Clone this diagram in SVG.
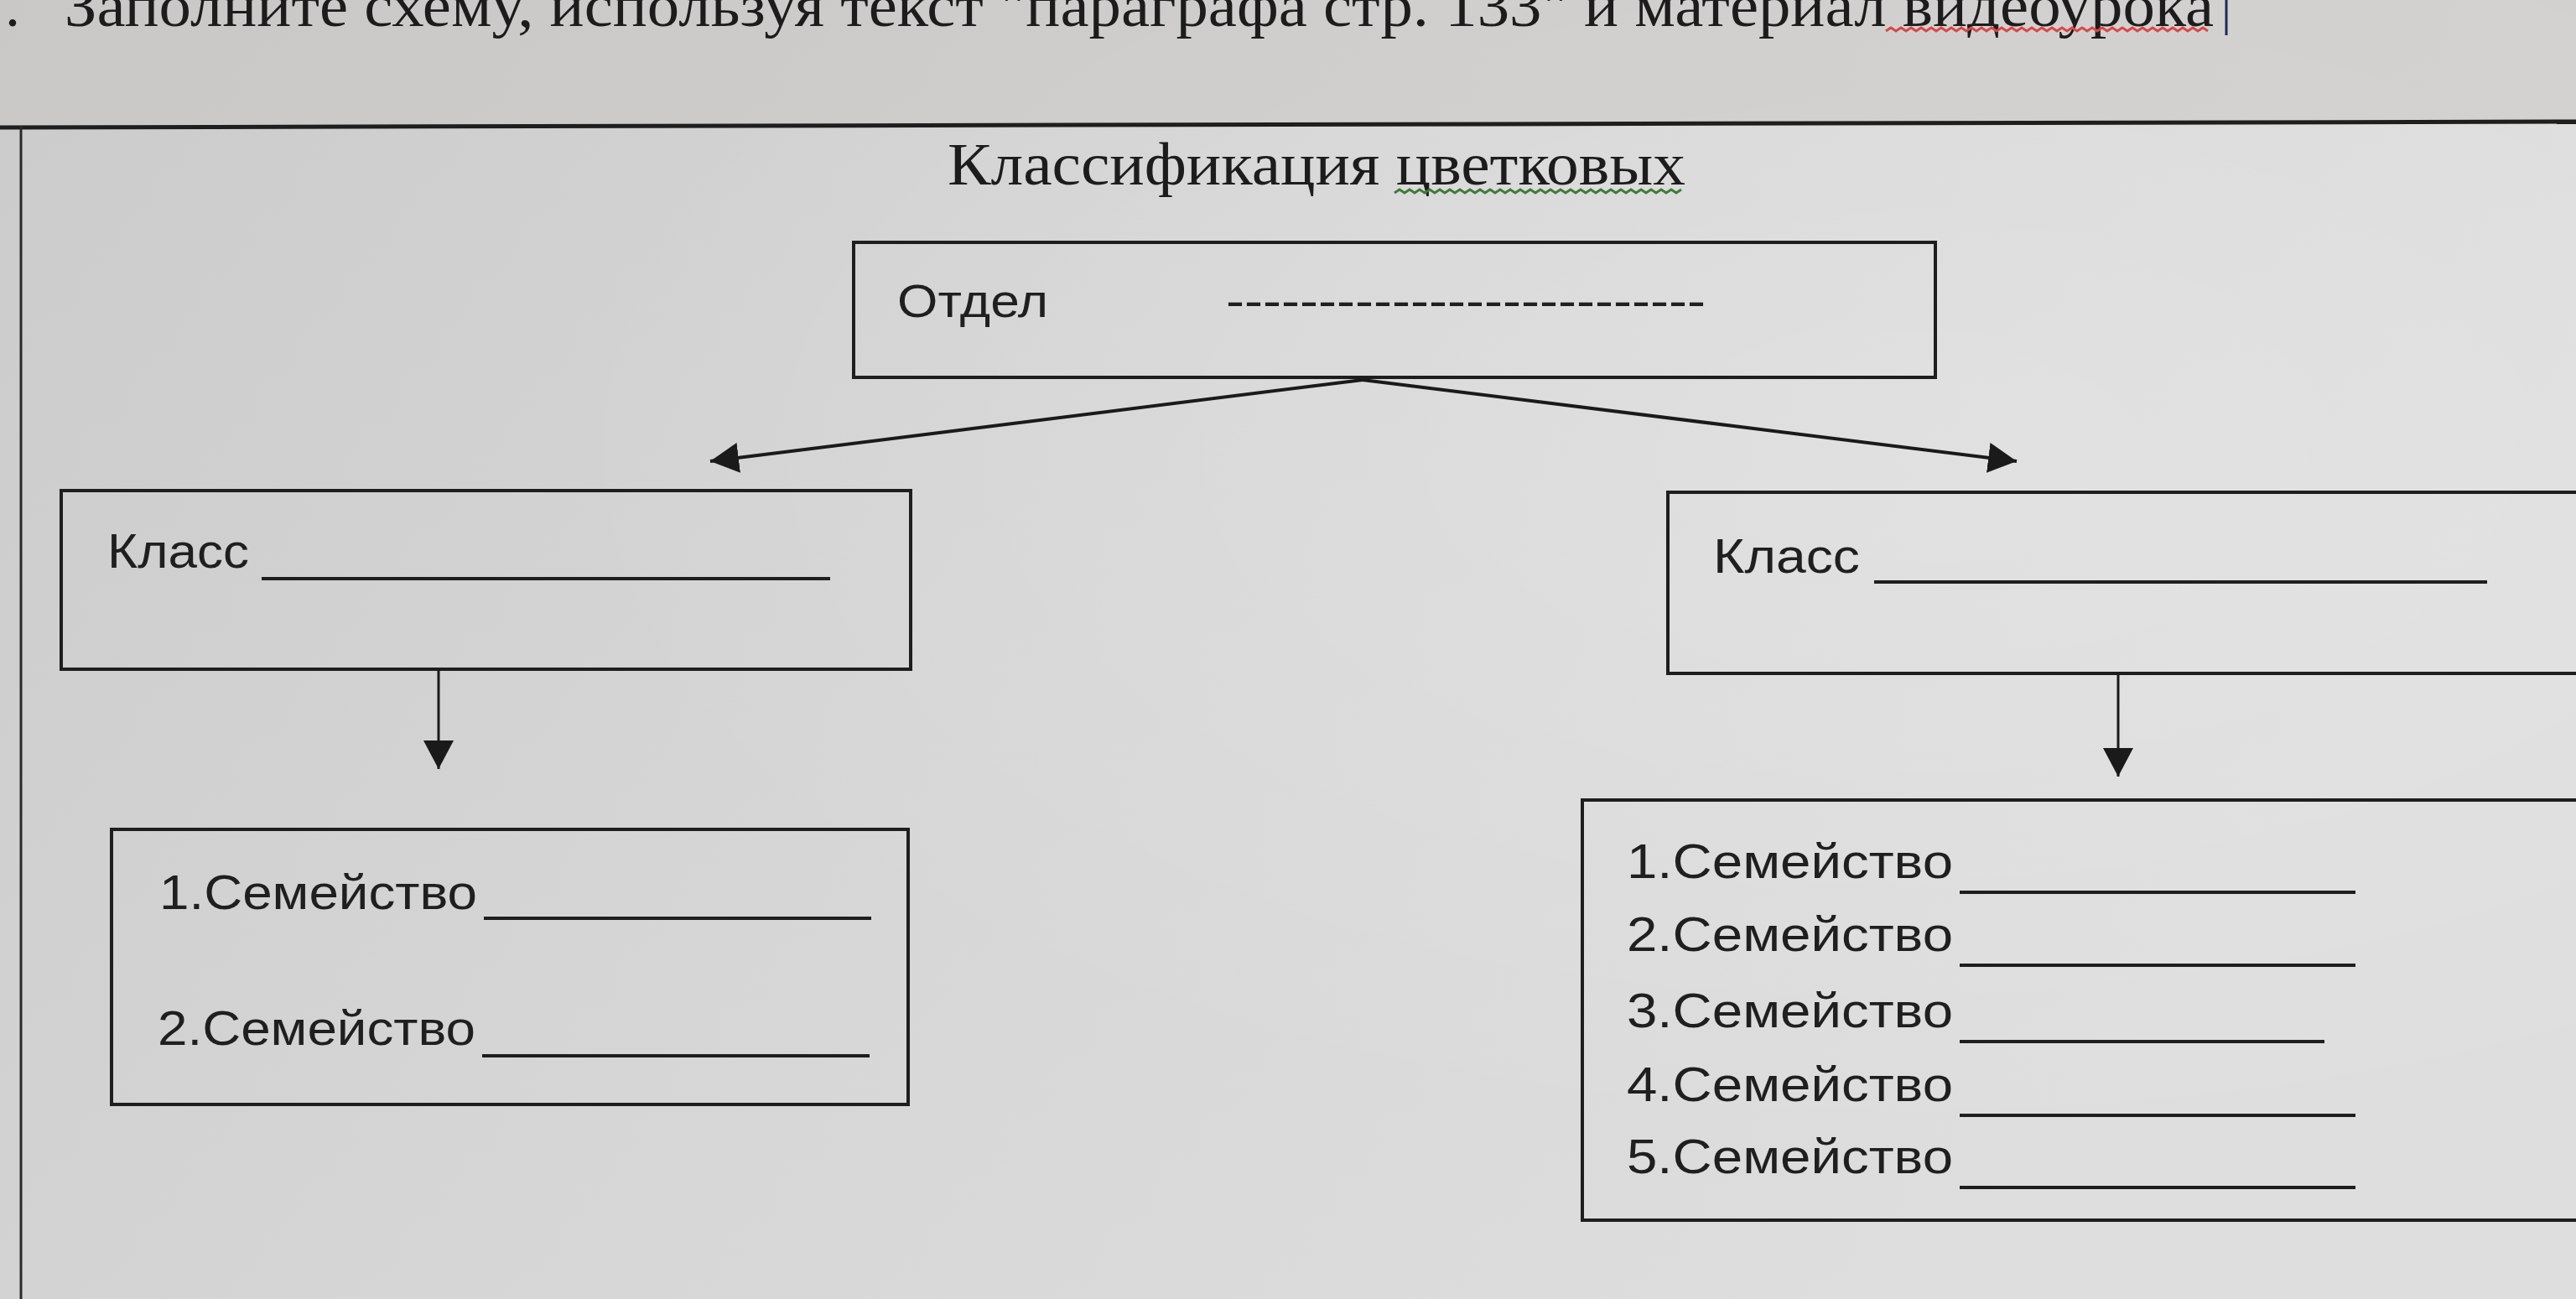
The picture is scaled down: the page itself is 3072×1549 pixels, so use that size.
<svg xmlns="http://www.w3.org/2000/svg" width="3072" height="1549" viewBox="0 0 3072 1549">
<defs>
<linearGradient id="bg" x1="0" y1="0" x2="1" y2="0.4">
<stop offset="0" stop-color="#cbcbcb"/>
<stop offset="0.5" stop-color="#d6d6d6"/>
<stop offset="1" stop-color="#dedede"/>
</linearGradient>
<radialGradient id="hl" cx="0.75" cy="0.35" r="0.55">
<stop offset="0" stop-color="#ffffff" stop-opacity="0.18"/>
<stop offset="1" stop-color="#ffffff" stop-opacity="0"/>
</radialGradient>
<marker id="ah" viewBox="0 0 34 36" refX="34" refY="18" markerWidth="34" markerHeight="36" markerUnits="userSpaceOnUse" orient="auto">
<path d="M0,0 L34,18 L0,36 Z" fill="#1a1a1a"/>
</marker>
</defs>
<style>
.box{fill:none;stroke:#1e1e1e;stroke-width:4}
.serif{font-family:"Liberation Serif","Times New Roman",serif;fill:#1c1c1c;font-size:72px}
.sans{font-family:"Liberation Sans",Arial,sans-serif;fill:#1f1f1f;font-size:58px}
.blank{stroke:#1e1e1e;stroke-width:4}
.conn{stroke:#1a1a1a;fill:none}
.squig{fill:none;stroke-width:3}
</style>
<rect x="0" y="0" width="3072" height="1549" fill="url(#bg)"/>
<rect x="0" y="0" width="3072" height="1549" fill="url(#hl)"/>
<rect x="0" y="0" width="3072" height="148" fill="#c8c5c2" opacity="0.5"/>

<g id="instruction">
<text class="serif" x="6" y="31">.</text>
<text class="serif" x="77" y="31" textLength="2563" lengthAdjust="spacingAndGlyphs">Заполните схему, используя текст "параграфа стр. 133" и материал видеоурока</text>
<path class="squig" stroke="#d9474a" d="M2249,37 l6,-4 l6,4 l6,-4 l6,4 l6,-4 l6,4 l6,-4 l6,4 l6,-4 l6,4 l6,-4 l6,4 l6,-4 l6,4 l6,-4 l6,4 l6,-4 l6,4 l6,-4 l6,4 l6,-4 l6,4 l6,-4 l6,4 l6,-4 l6,4 l6,-4 l6,4 l6,-4 l6,4 l6,-4 l6,4 l6,-4 l6,4 l6,-4 l6,4 l6,-4 l6,4 l6,-4 l6,4 l6,-4 l6,4 l6,-4 l6,4 l6,-4 l6,4 l6,-4 l6,4 l6,-4 l6,4 l6,-4 l6,4 l6,-4 l6,4 l6,-4 l6,4 l6,-4 l6,4 l6,-4 l6,4 l6,-4 l6,4 l6,-4 l6,4"/>
<line x1="2655" y1="0" x2="2655" y2="42" stroke="#1b2a55" stroke-width="3"/>
</g>

<g id="frame">
<line x1="0" y1="152" x2="3072" y2="145" stroke="#1e1e1e" stroke-width="5"/>
<line x1="25" y1="150" x2="25" y2="1549" stroke="#2a2a2a" stroke-width="3"/>
</g>

<g id="title">
<text class="serif" x="1130" y="220" textLength="880" lengthAdjust="spacingAndGlyphs">Классификация цветковых</text>
<path class="squig" stroke="#3f7a3a" d="M1663,230 l6,-4 l6,4 l6,-4 l6,4 l6,-4 l6,4 l6,-4 l6,4 l6,-4 l6,4 l6,-4 l6,4 l6,-4 l6,4 l6,-4 l6,4 l6,-4 l6,4 l6,-4 l6,4 l6,-4 l6,4 l6,-4 l6,4 l6,-4 l6,4 l6,-4 l6,4 l6,-4 l6,4 l6,-4 l6,4 l6,-4 l6,4 l6,-4 l6,4 l6,-4 l6,4 l6,-4 l6,4 l6,-4 l6,4 l6,-4 l6,4 l6,-4 l6,4 l6,-4 l6,4 l6,-4 l6,4 l6,-4 l6,4 l6,-4 l6,4 l6,-4 l6,4 l6,-4"/>
</g>

<g id="otdel">
<rect class="box" x="1018" y="289" width="1290" height="161"/>
<text class="sans" style="font-size:56px" x="1070" y="378" textLength="180" lengthAdjust="spacingAndGlyphs">Отдел</text>
<text class="sans" style="font-size:56px" x="1462" y="378" textLength="572" lengthAdjust="spacingAndGlyphs">--------------------------</text>
</g>

<g id="klass-left">
<rect class="box" x="73" y="585" width="1013" height="213"/>
<text class="sans" x="128" y="677" textLength="169" lengthAdjust="spacingAndGlyphs">Класс</text>
<line class="blank" x1="312" y1="690" x2="990" y2="690"/>
</g>

<g id="klass-right">
<rect class="box" x="1989" y="587" width="1120" height="216"/>
<text class="sans" x="2043" y="683" textLength="175" lengthAdjust="spacingAndGlyphs">Класс</text>
<line class="blank" x1="2235" y1="694" x2="2966" y2="694"/>
</g>

<g id="families-left">
<rect class="box" x="133" y="989" width="950" height="328"/>
<text class="sans" x="190" y="1084" textLength="379" lengthAdjust="spacingAndGlyphs">1.Семейство</text>
<line class="blank" x1="577" y1="1095" x2="1039" y2="1095"/>
<text class="sans" x="188" y="1246" textLength="379" lengthAdjust="spacingAndGlyphs">2.Семейство</text>
<line class="blank" x1="575" y1="1259" x2="1037" y2="1259"/>
</g>

<g id="families-right">
<rect class="box" x="1887" y="954" width="1220" height="501"/>
<text class="sans" x="1940" y="1047" textLength="389" lengthAdjust="spacingAndGlyphs">1.Семейство</text>
<line class="blank" x1="2337" y1="1064" x2="2809" y2="1064"/>
<text class="sans" x="1940" y="1134" textLength="389" lengthAdjust="spacingAndGlyphs">2.Семейство</text>
<line class="blank" x1="2337" y1="1151" x2="2809" y2="1151"/>
<text class="sans" x="1940" y="1225" textLength="389" lengthAdjust="spacingAndGlyphs">3.Семейство</text>
<line class="blank" x1="2337" y1="1242" x2="2772" y2="1242"/>
<text class="sans" x="1940" y="1313" textLength="389" lengthAdjust="spacingAndGlyphs">4.Семейство</text>
<line class="blank" x1="2337" y1="1330" x2="2809" y2="1330"/>
<text class="sans" x="1940" y="1399" textLength="389" lengthAdjust="spacingAndGlyphs">5.Семейство</text>
<line class="blank" x1="2337" y1="1416" x2="2809" y2="1416"/>
</g>

<g id="connectors">
<line class="conn" stroke-width="4" x1="1625" y1="453" x2="847" y2="550" marker-end="url(#ah)"/>
<line class="conn" stroke-width="4" x1="1625" y1="453" x2="2405" y2="550" marker-end="url(#ah)"/>
<line class="conn" stroke-width="3" x1="523" y1="798" x2="523" y2="917" marker-end="url(#ah)"/>
<line class="conn" stroke-width="3" x1="2526" y1="803" x2="2526" y2="926" marker-end="url(#ah)"/>
</g>
</svg>
